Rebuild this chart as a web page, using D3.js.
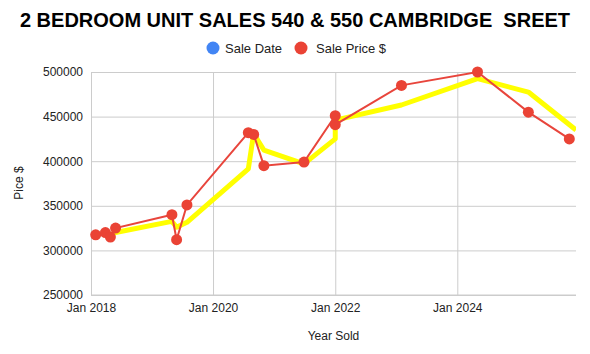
<!DOCTYPE html>
<html>
<head>
<meta charset="utf-8">
<script src="https://cdn.jsdelivr.net/npm/d3@7"></script>
<style>
  body { margin: 0; background: #fff; }
  svg { font-family: Arial, "Liberation Sans", sans-serif; }
</style>
</head>
<body>
<div id="chart"></div>
<script>
// sale dates and prices
var saleDates = ["2018-01-29", "2018-03-28", "2018-04-27", "2018-05-28", "2019-04-30", "2019-05-28",
                 "2019-07-29", "2020-07-30", "2020-08-31", "2020-10-31", "2021-06-28", "2022-01-01",
                 "2022-01-01", "2023-02-01", "2024-05-01", "2025-03-01", "2025-11-01"];
var salePrices = [317500, 320000, 315000, 325000, 340000, 312000, 351000, 432000, 430000, 395000,
                  399000, 451000, 441000, 485000, 500000, 455000, 425000];

// yellow trend line
var trendDates = ["2018-03-28", "2018-04-27", "2018-05-28", "2019-04-30", "2019-05-28", "2019-07-29",
                  "2020-07-30", "2020-08-31", "2020-10-31", "2021-06-28", "2022-01-01", "2022-01-01",
                  "2023-02-01", "2024-05-01", "2025-03-01", "2025-12-11"];
var trendValues = [319000, 317500, 320000, 332500, 326000, 331500, 391500, 431000, 412500, 397000,
                   425000, 446000, 463000, 492500, 477500, 435000];

var xTicks = ["2018-01-01", "2020-01-01", "2022-01-01", "2024-01-01"];
var yTicks = [250000, 300000, 350000, 400000, 450000, 500000];

var parseDate = d3.timeParse("%Y-%m-%d");

var sales = saleDates.map((d, i) => ({ date: parseDate(d), price: salePrices[i] }));
var trend = trendDates.map((d, i) => ({ date: parseDate(d), price: trendValues[i] }));

var W = 590, H = 354;
var plot = { left: 91, right: 576, top: 72, bottom: 295 };

var svg = d3.select("#chart").append("svg")
            .attr("width", W)
            .attr("height", H);

var x = d3.scaleTime()
          .domain([parseDate("2018-01-01"), parseDate("2025-12-11")])
          .range([plot.left, plot.right]);
var y = d3.scaleLinear().domain([250000, 500000]).range([plot.bottom, plot.top]);

// Lưới ngang
svg.append("g")
   .attr("class", "y-grid")
   .attr("transform", `translate(${plot.left},0)`)
   .call(d3.axisLeft(y).tickValues(yTicks).tickSize(-(plot.right - plot.left)).tickFormat(d => d).tickPadding(8))
   .call(g => g.select(".domain").remove())
   .call(g => g.selectAll("line").attr("stroke", "#cccccc"))
   .call(g => g.selectAll("text").attr("fill", "#222").style("font-size", "12px"));

// Lưới dọc
svg.append("g")
   .attr("class", "x-grid")
   .attr("transform", `translate(0,${plot.bottom})`)
   .call(d3.axisBottom(x).tickValues(xTicks.map(parseDate)).tickSize(-(plot.bottom - plot.top))
           .tickFormat(d3.timeFormat("Jan %Y")).tickPadding(8))
   .call(g => g.select(".domain").remove())
   .call(g => g.selectAll("line").attr("stroke", "#cccccc"))
   .call(g => g.selectAll("text").attr("fill", "#222").style("font-size", "12px"));

// bottom baseline
svg.append("line")
   .attr("x1", plot.left).attr("x2", plot.right)
   .attr("y1", plot.bottom).attr("y2", plot.bottom)
   .attr("stroke", "#cccccc");

var line = d3.line().x(d => x(d.date)).y(d => y(d.price));

svg.append("defs").append("clipPath").attr("id", "plot")
   .append("rect").attr("x", plot.left).attr("y", plot.top - 10)
   .attr("width", plot.right - plot.left).attr("height", plot.bottom - plot.top + 10);

svg.append("path")
   .datum(trend)
   .attr("clip-path", "url(#plot)")
   .attr("fill", "none")
   .attr("stroke", "#ffff00")
   .attr("stroke-width", 5)
   .attr("stroke-linejoin", "round")
   .attr("d", line);

svg.append("path")
   .datum(sales)
   .attr("fill", "none")
   .attr("stroke", "#e8453c")
   .attr("stroke-width", 2)
   .attr("d", line);

svg.selectAll(".dot")
   .data(sales)
   .enter().append("circle")
   .attr("class", "dot")
   .attr("cx", d => x(d.date))
   .attr("cy", d => y(d.price))
   .attr("r", 5.5)
   .attr("fill", "#ea4335");

// Tiêu đề
svg.append("text")
   .attr("x", W / 2)
   .attr("y", 27)
   .attr("text-anchor", "middle")
   .style("font-size", "20px")
   .style("font-weight", "bold")
   .style("white-space", "pre")
   .text("2 BEDROOM UNIT SALES 540 & 550 CAMBRIDGE  SREET");

// Chú thích
var legend = [{ name: "Sale Date", color: "#4285f4", cx: 213, tx: 225 },
              { name: "Sale Price $", color: "#ea4335", cx: 301, tx: 316 }];
var lg = svg.selectAll(".legend").data(legend).enter().append("g").attr("class", "legend");
lg.append("circle").attr("cx", d => d.cx).attr("cy", 48).attr("r", 6.5).attr("fill", d => d.color);
lg.append("text").attr("x", d => d.tx).attr("y", 52.5).style("font-size", "13px").attr("fill", "#222").text(d => d.name);

// Tên trục
svg.append("text")
   .attr("x", (plot.left + plot.right) / 2)
   .attr("y", 340)
   .attr("text-anchor", "middle")
   .style("font-size", "12px")
   .attr("fill", "#222")
   .text("Year Sold");

svg.append("text")
   .attr("transform", "translate(23,183) rotate(-90)")
   .attr("text-anchor", "middle")
   .style("font-size", "12px")
   .attr("fill", "#222")
   .text("Pice $");
</script>
</body>
</html>
